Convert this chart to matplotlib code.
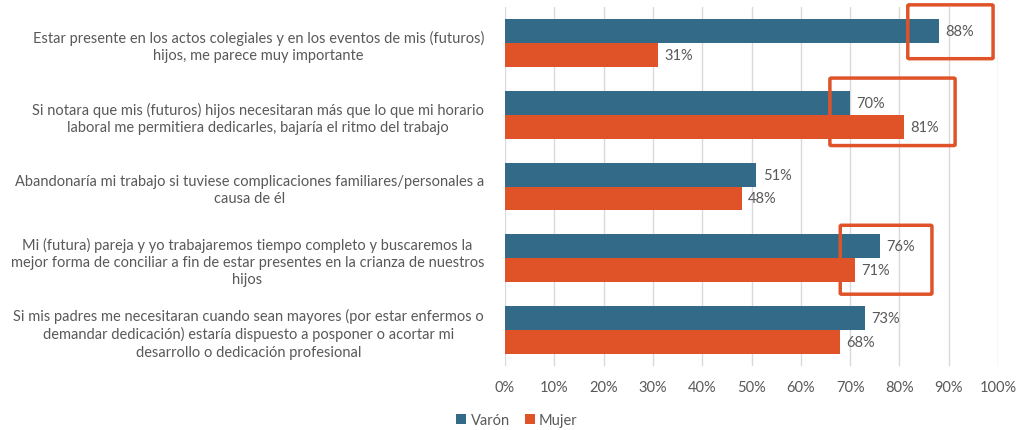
import matplotlib.pyplot as plt
import numpy as np
from matplotlib.patches import FancyBboxPatch

categories = [
    "Estar presente en los actos colegiales y en los eventos de mis (futuros)\nhijos, me parece muy importante",
    "Si notara que mis (futuros) hijos necesitaran más que lo que mi horario\nlaboral me permitiera dedicarles, bajaría el ritmo del trabajo",
    "Abandonaría mi trabajo si tuviese complicaciones familiares/personales a\ncausa de él",
    "Mi (futura) pareja y yo trabajaremos tiempo completo y buscaremos la\nmejor forma de conciliar a fin de estar presentes en la crianza de nuestros\nhijos",
    "Si mis padres me necesitaran cuando sean mayores (por estar enfermos o\ndemandar dedicación) estaría dispuesto a posponer o acortar mi\ndesarrollo o dedicación profesional",
]
varon = [88, 70, 51, 76, 73]
mujer = [31, 81, 48, 71, 68]
# highlighted groups (x0, x1, y0, y1) in data units
highlights = [(81.7, 99.0, -0.53, 0.22), (65.9, 91.3, 0.49, 1.43), (68.0, 86.6, 2.54, 3.5)]

c_varon = "#336A87"
c_mujer = "#E05328"
txt = "#595959"

plt.rcParams['font.family'] = ['Lato', 'DejaVu Sans']

fig = plt.figure(figsize=(10.18, 4.31), dpi=100)
ax = fig.add_axes([505 / 1018, 1 - 367 / 431, 493 / 1018, 359 / 431])

y = np.arange(len(categories))
h = 0.333
ax.barh(y - h / 2, varon, height=h, color=c_varon, label="Varón")
ax.barh(y + h / 2, mujer, height=h, color=c_mujer, label="Mujer")

for i in range(len(categories)):
    ax.text(varon[i] + 1.3, y[i] - h / 2, f"{varon[i]}%", va='center', ha='left', color=txt, fontsize=10.5)
    ax.text(mujer[i] + 1.3, y[i] + h / 2, f"{mujer[i]}%", va='center', ha='left', color=txt, fontsize=10.5)

for x0, x1, y0, y1 in highlights:
    ax.add_patch(FancyBboxPatch((x0, y0), x1 - x0, y1 - y0, boxstyle="round,pad=0,rounding_size=0.3",
                                fill=False, edgecolor=c_mujer, linewidth=2.5, clip_on=False, zorder=5,
                                mutation_aspect=0.05))

ax.set_xlim(0, 100)
ax.set_ylim(4.5, -0.5)
ax.set_xticks(np.arange(0, 101, 10))
ax.set_xticklabels([f"{v}%" for v in range(0, 101, 10)], color=txt, fontsize=10.5)
ax.set_yticks(y)
ax.set_yticklabels(categories, color=txt, fontsize=10.5, multialignment='center', linespacing=1.3)
ax.tick_params(axis='both', length=0)
ax.tick_params(axis='y', pad=15)
ax.tick_params(axis='x', pad=10)
ax.grid(axis='x', color="#D9D9D9", linewidth=1)
ax.set_axisbelow(True)
for s in ax.spines.values():
    s.set_visible(False)

fig.legend(loc='center', bbox_to_anchor=(517 / 1018, 1 - 421 / 431), ncol=2, frameon=False,
           fontsize=10.5, handlelength=0.7, handleheight=0.7, handletextpad=0.3, columnspacing=1.0,
           labelcolor=txt)

fig.savefig("out.png", dpi=100)
